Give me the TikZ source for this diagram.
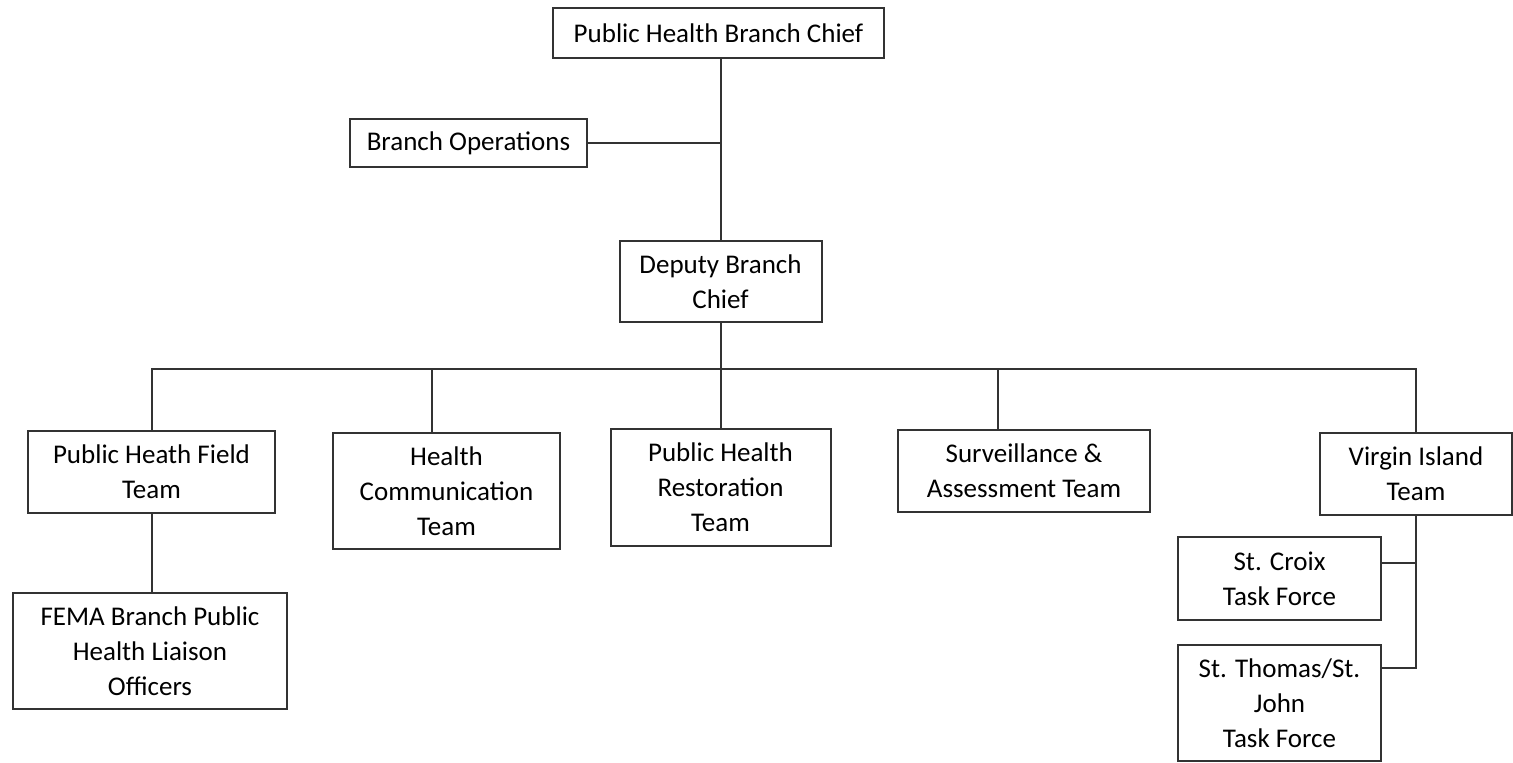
\documentclass[tikz,border=0pt]{standalone}
\usepackage{fontspec}
\setmainfont{Carlito}
\usepackage{tikz}

\begin{document}
\begin{tikzpicture}[x=0.5pt,y=-0.5pt,
    box/.style={draw=black!80,line width=1pt,align=center,inner sep=0pt,
        font=\fontsize{13.5}{17.5}\selectfont},
    link/.style={draw=black!80,line width=1pt}]
            \useasboundingbox (0,0) rectangle (1513,762);
            % top of the chart
            \node[box,minimum width=165.5pt,minimum height=25pt] (chief) at (718.5,33) {Public Health Branch Chief};
            \node[box,minimum width=118.5pt,minimum height=24pt] (ops) at (468.5,143) {Branch Operations};
            \node[box,minimum width=101pt,minimum height=40.5pt] (deputy) at (720.5,281.5) {Deputy Branch\\Chief};
            % teams
            \node[box,minimum width=123.5pt,minimum height=41pt] (field) at (151.5,472) {Public Heath Field\\Team};
            \node[box,minimum width=113.5pt,minimum height=58pt] (comm) at (446.5,491) {Health\\Communication\\Team};
            \node[box,minimum width=110pt,minimum height=58.5pt] (restor) at (720.5,487.5) {Public Health\\Restoration\\Team};
            \node[box,minimum width=126pt,minimum height=41pt] (surv) at (1024,471) {Surveillance \&\\Assessment Team};
            \node[box,minimum width=96pt,minimum height=41pt] (virgin) at (1416,474) {Virgin Island\\Team};
            % under the teams
            \node[box,minimum width=137pt,minimum height=58pt] (fema) at (150,651) {FEMA Branch Public\\Health Liaison\\Officers};
            \node[box,minimum width=101.5pt,minimum height=41.5pt] (croix) at (1279.5,578.5) {St. Croix\\Task Force};
            \node[box,minimum width=101.5pt,minimum height=58pt] (thomas) at (1279.5,703) {St. Thomas/St.\\John\\Task Force};
            \coordinate (bus) at (720.5,369);
            % connectors
            \draw[link] (deputy.north |- chief.south) -- (deputy.north);
            \draw[link] (ops.east) -- (ops.east -| deputy.north);
            \draw[link] (deputy.south) -- (restor.north);
            \draw[link] (field.north) |- (bus) -| (virgin.north);
            \draw[link] ([xshift=-7.5pt]comm.north) |- (bus);
            \draw[link] ([xshift=-13pt]surv.north) |- (bus);
            \draw[link] (field.south) -- (field.south |- fema.north);
            \draw[link] (virgin.south) |- ([yshift=-13.5pt]croix.north east);
            \draw[link] (virgin.south) |- ([yshift=-12pt]thomas.north east);
        \end{tikzpicture}
\end{document}
